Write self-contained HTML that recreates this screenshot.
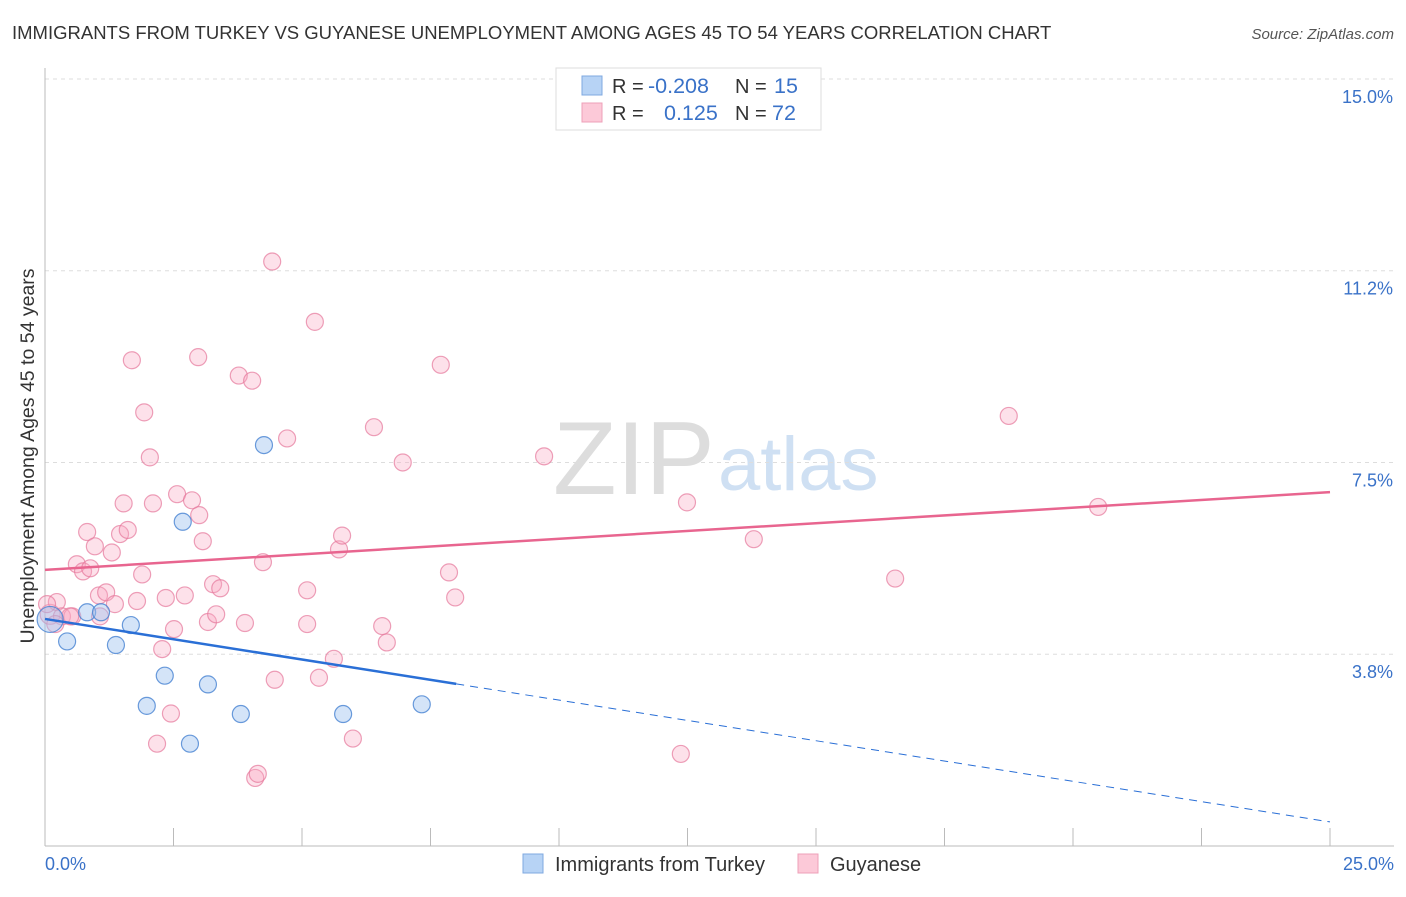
<!DOCTYPE html>
<html><head><meta charset="utf-8"><style>
body{margin:0;background:#fff;font-family:"Liberation Sans",sans-serif;}
svg text{font-family:"Liberation Sans",sans-serif;}
</style></head><body>
<svg width="1406" height="892" id="chart">
<text x="12" y="39" font-size="18.5" fill="#333">IMMIGRANTS FROM TURKEY VS GUYANESE UNEMPLOYMENT AMONG AGES 45 TO 54 YEARS CORRELATION CHART</text>
<text x="1394" y="39" font-size="15" fill="#555" font-style="italic" text-anchor="end">Source: ZipAtlas.com</text>
<text x="34" y="456" font-size="19.5" fill="#333" text-anchor="middle" transform="rotate(-90 34 456)">Unemployment Among Ages 45 to 54 years</text>
<g>
<text x="553" y="494" font-size="104" font-family="Liberation Serif" fill="#ddd">ZIP</text>
<text x="718" y="490" font-size="76" fill="#cfe0f3">atlas</text>
</g>
<g id="grid"></g><g id="axes"></g><g id="pts"></g><g id="lines"></g>
<g>
<rect x="556" y="68" width="265" height="62" fill="#fff" stroke="#ddd"/>
<rect x="582" y="76" width="20" height="19" fill="#b7d3f5" stroke="#7fa8e0"/>
<rect x="582" y="103" width="20" height="19" fill="#fcc9d8" stroke="#eea0b8"/>
<text x="612" y="93" font-size="20" fill="#333">R =</text>
<text x="648" y="93" font-size="21.5" fill="#3a72c8">-0.208</text>
<text x="735" y="93" font-size="20" fill="#333">N =</text>
<text x="774" y="93" font-size="21.5" fill="#3a72c8">15</text>
<text x="612" y="120" font-size="20" fill="#333">R =</text>
<text x="664" y="120" font-size="21.5" fill="#3a72c8">0.125</text>
<text x="735" y="120" font-size="20" fill="#333">N =</text>
<text x="772" y="120" font-size="21.5" fill="#3a72c8">72</text>
</g>
<g>
<rect x="523" y="854" width="20" height="19" fill="#b7d3f5" stroke="#7fa8e0"/>
<text x="555" y="871" font-size="20" fill="#333">Immigrants from Turkey</text>
<rect x="798" y="854" width="20" height="19" fill="#fcc9d8" stroke="#eea0b8"/>
<text x="830" y="871" font-size="20" fill="#333">Guyanese</text>
</g>
</svg>
<script>
const yTicks=[3.75,7.5,11.25,15];
const yTickLabels=["3.8%","7.5%","11.2%","15.0%"];
const xTickLabels=["0.0%","25.0%"];
const turkeyX=[0.1,0.43,0.82,1.09,1.38,1.67,1.98,2.33,2.68,2.82,3.17,3.81,4.26,5.8,7.33];
const turkeyY=[4.43,4.0,4.57,4.57,3.93,4.32,2.74,3.33,6.34,2.0,3.16,2.58,7.84,2.58,2.77];
const guyX=[0.1,0.23,0.33,0.53,0.62,0.74,0.82,0.88,0.97,1.05,1.19,1.30,1.36,1.46,1.61,1.53,1.69,1.79,1.89,1.93,2.04,2.1,2.18,2.28,2.35,2.45,2.51,2.57,2.72,2.86,2.98,3.0,3.07,3.17,3.27,3.33,3.41,3.77,3.89,4.03,4.09,4.14,4.24,4.47,4.42,4.71,5.1,5.1,5.25,5.33,5.62,5.72,5.78,5.99,6.4,6.56,6.65,6.96,7.7,7.86,7.98,9.71,12.37,12.49,13.79,16.54,18.75,20.49,0.49,0.2,0.04,1.07];
const guyY=[4.53,4.77,4.49,4.49,5.51,5.37,6.14,5.43,5.86,4.9,4.96,5.74,4.73,6.1,6.18,6.7,9.5,4.79,5.31,8.48,7.6,6.7,2.0,3.85,4.85,2.59,4.24,6.88,4.9,6.76,9.56,6.47,5.96,4.38,5.12,4.53,5.04,9.2,4.36,9.1,1.33,1.41,5.55,3.25,11.43,7.97,5.0,4.34,10.25,3.29,3.66,5.8,6.07,2.1,8.19,4.3,3.98,7.5,9.41,5.35,4.86,7.62,1.8,6.72,6.0,5.23,8.41,6.63,4.49,4.34,4.73,4.49];
const guyLine=[5.4,6.92];
const turkeyLine=[4.44,0.47]; const turkeySolidEnd=8.0;
const X=v=>45+v*51.4, Y=v=>79+(15-v)*51.13;
const NS="http://www.w3.org/2000/svg";
function mk(tag,attrs,parent){const e=document.createElementNS(NS,tag);for(const k in attrs)e.setAttribute(k,attrs[k]);document.getElementById(parent).appendChild(e);return e;}
yTicks.forEach((t,i)=>{
 const g=mk('line',{x1:45,x2:1394,y1:Y(t),y2:Y(t),stroke:'#ddd','stroke-dasharray':'4,4'},'grid');
 
 
 const tx=mk('text',{x:1393,y:Y(t)+24,'font-size':18,fill:'#3a72c8','text-anchor':'end'},'grid');
 tx.textContent=yTickLabels[i];
 
 
});
const ax=mk('line',{x1:45,x2:45,y1:68,y2:846,stroke:'#bbb'},'axes');


const bx=mk('line',{x1:45,x2:1394,y1:846,y2:846,stroke:'#bbb'},'axes');


for(let i=1;i<=10;i++){const v=i*2.5;const tk=mk('line',{x1:X(v),x2:X(v),y1:828,y2:846,stroke:'#bbb'},'axes');
 
 }
[[0,'start',45],[25,'end',1394]].forEach((a,i)=>{const t=mk('text',{x:a[2],y:870,'font-size':18,fill:'#3a72c8','text-anchor':a[1]},'axes');t.textContent=xTickLabels[i];
 
 });
guyX.forEach((x,i)=>{const c=mk('circle',{cx:X(x),cy:Y(guyY[i]),r:i==0?10:8.5,fill:'rgba(248,170,195,0.35)',stroke:'rgba(230,120,155,0.7)','stroke-width':1.2},'pts');
 
 });
turkeyX.forEach((x,i)=>{const c=mk('circle',{cx:X(x),cy:Y(turkeyY[i]),r:i==0?13:8.5,fill:'rgba(160,195,240,0.45)',stroke:'rgba(70,130,210,0.8)','stroke-width':1.2},'pts');
 
 });
const pl=mk('line',{x1:X(0),y1:Y(guyLine[0]),x2:X(25),y2:Y(guyLine[1]),stroke:'#e8658f','stroke-width':2.5},'lines');


const tAt=v=>turkeyLine[0]+(turkeyLine[1]-turkeyLine[0])*v/25;
const bl=mk('line',{x1:X(0),y1:Y(tAt(0)),x2:X(turkeySolidEnd),y2:Y(tAt(turkeySolidEnd)),stroke:'#2a6fd6','stroke-width':2.5},'lines');


const bd=mk('line',{x1:X(turkeySolidEnd),y1:Y(tAt(turkeySolidEnd)),x2:X(25),y2:Y(tAt(25)),stroke:'#2a6fd6','stroke-width':1,'stroke-dasharray':'8,6'},'lines');


</script>
</body></html>
